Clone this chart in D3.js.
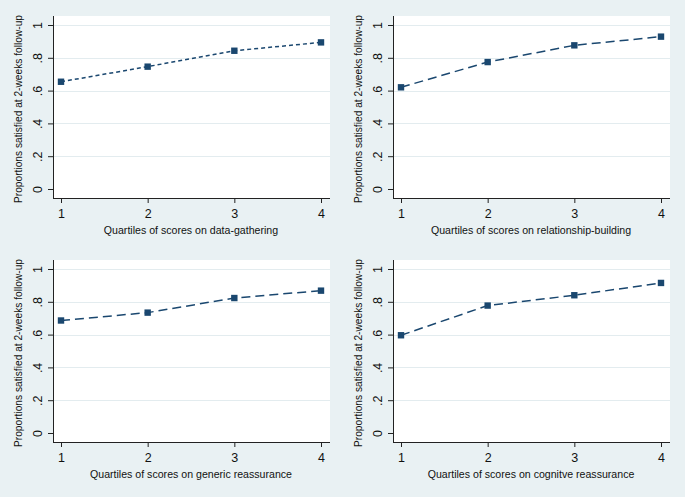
<!DOCTYPE html>
<html>
<head>
<meta charset="utf-8">
<script src="https://cdn.jsdelivr.net/npm/d3@7"></script>
<style>
  html, body { margin: 0; padding: 0; background: #e9f1f3; }
  svg { display: block; font-family: "Liberation Sans", Arial, sans-serif; }
</style>
</head>
<body>
<svg id="chart" width="685" height="497"></svg>
<script>
// ---- data ----
const quartiles = [1, 2, 3, 4];
const dataGathering = [0.654, 0.746, 0.843, 0.894];
const relationshipBuilding = [0.620, 0.774, 0.876, 0.929];
const genericReassurance = [0.686, 0.734, 0.823, 0.868];
const cognitiveReassurance = [0.596, 0.777, 0.840, 0.915];
const xTitles = [
  "Quartiles of scores on data-gathering",
  "Quartiles of scores on relationship-building",
  "Quartiles of scores on generic reassurance",
  "Quartiles of scores on cognitve reassurance"
];
const yTitle = "Proportions satisfied at 2-weeks follow-up";
const yTickValues = [0, 0.2, 0.4, 0.6, 0.8, 1];
const yTickLabels = ["0", ".2", ".4", ".6", ".8", "1"];
const xTickLabels = ["1", "2", "3", "4"];

const seriesList = [dataGathering, relationshipBuilding, genericReassurance, cognitiveReassurance];
const dashes = ["4,3", "9,5", "9,5", "9,5"];
const offsets = [[0, 0], [340, 0], [0, 244], [340, 244]];

const navy = "#1a476f";
const svg = d3.select("#chart");
svg.append("rect").attr("width", 685).attr("height", 497).attr("fill", "#e9f1f3");

const plotL = 53, plotR = 330, plotT = 16, plotB = 198;
const x = d3.scaleLinear().domain([1, 4]).range([61, 321]);
const y = d3.scaleLinear().domain([0, 1]).range([189, 25]);

seriesList.forEach((vals, i) => {
  const g = svg.append("g").attr("transform", `translate(${offsets[i][0]},${offsets[i][1]})`);
  g.append("rect").attr("x", plotL).attr("y", plotT)
    .attr("width", plotR - plotL).attr("height", plotB - plotT).attr("fill", "#ffffff");

  // gridlines
  g.selectAll("line.grid").data(yTickValues.slice(1)).enter().append("line")
    .attr("class", "grid")
    .attr("x1", plotL).attr("x2", plotR)
    .attr("y1", d => Math.round(y(d)) + 0.5).attr("y2", d => Math.round(y(d)) + 0.5)
    .attr("stroke", "#e3ecef").attr("stroke-width", 1.2);

  // y axis
  const ya = g.append("g").attr("transform", `translate(${plotL},0)`)
    .call(d3.axisLeft(y).tickValues(yTickValues).tickFormat((d, k) => yTickLabels[k]).tickSize(5).tickSizeOuter(0));
  ya.select(".domain").remove();
  ya.selectAll(".tick line").attr("stroke", "#222");
  ya.selectAll(".tick text")
    .attr("x", null).attr("dy", null)
    .attr("transform", "translate(-11.5,0) rotate(-90)")
    .attr("text-anchor", "middle")
    .attr("font-size", 12.5).attr("fill", "#111")
    .attr("font-family", "Liberation Sans, Arial, sans-serif");
  g.append("line").attr("x1", plotL + 0.5).attr("x2", plotL + 0.5).attr("y1", plotT).attr("y2", plotB)
    .attr("stroke", "#222").attr("stroke-width", 1);

  // x axis
  const xa = g.append("g").attr("transform", `translate(0,${plotB})`)
    .call(d3.axisBottom(x).tickValues(quartiles).tickFormat((d, k) => xTickLabels[k]).tickSize(5).tickSizeOuter(0));
  xa.select(".domain").remove();
  xa.selectAll(".tick line").attr("stroke", "#222");
  xa.selectAll(".tick text")
    .attr("y", 19.7).attr("dy", null)
    .attr("font-size", 12.5).attr("fill", "#111")
    .attr("font-family", "Liberation Sans, Arial, sans-serif");
  g.append("line").attr("x1", plotL).attr("x2", plotR).attr("y1", plotB + 0.5).attr("y2", plotB + 0.5)
    .attr("stroke", "#222").attr("stroke-width", 1);

  // titles
  g.append("text").attr("x", 191).attr("y", 233.5).attr("text-anchor", "middle")
    .attr("font-size", 10.6).attr("fill", "#111").text(xTitles[i]);
  g.append("text").attr("transform", "translate(21.5,109) rotate(-90)").attr("text-anchor", "middle")
    .attr("font-size", 10.2).attr("fill", "#111").text(yTitle);

  // line + markers
  const pts = quartiles.map((q, k) => [q, vals[k]]);
  g.append("path").datum(pts)
    .attr("d", d3.line().x(d => x(d[0])).y(d => y(d[1])))
    .attr("fill", "none").attr("stroke", navy).attr("stroke-width", 1.5)
    .attr("stroke-dasharray", dashes[i]);
  g.selectAll("rect.mk").data(pts).enter().append("rect")
    .attr("class", "mk")
    .attr("x", d => x(d[0]) - 3.2).attr("y", d => y(d[1]) - 3.2)
    .attr("width", 6.4).attr("height", 6.4).attr("fill", navy);
});
</script>
</body>
</html>
